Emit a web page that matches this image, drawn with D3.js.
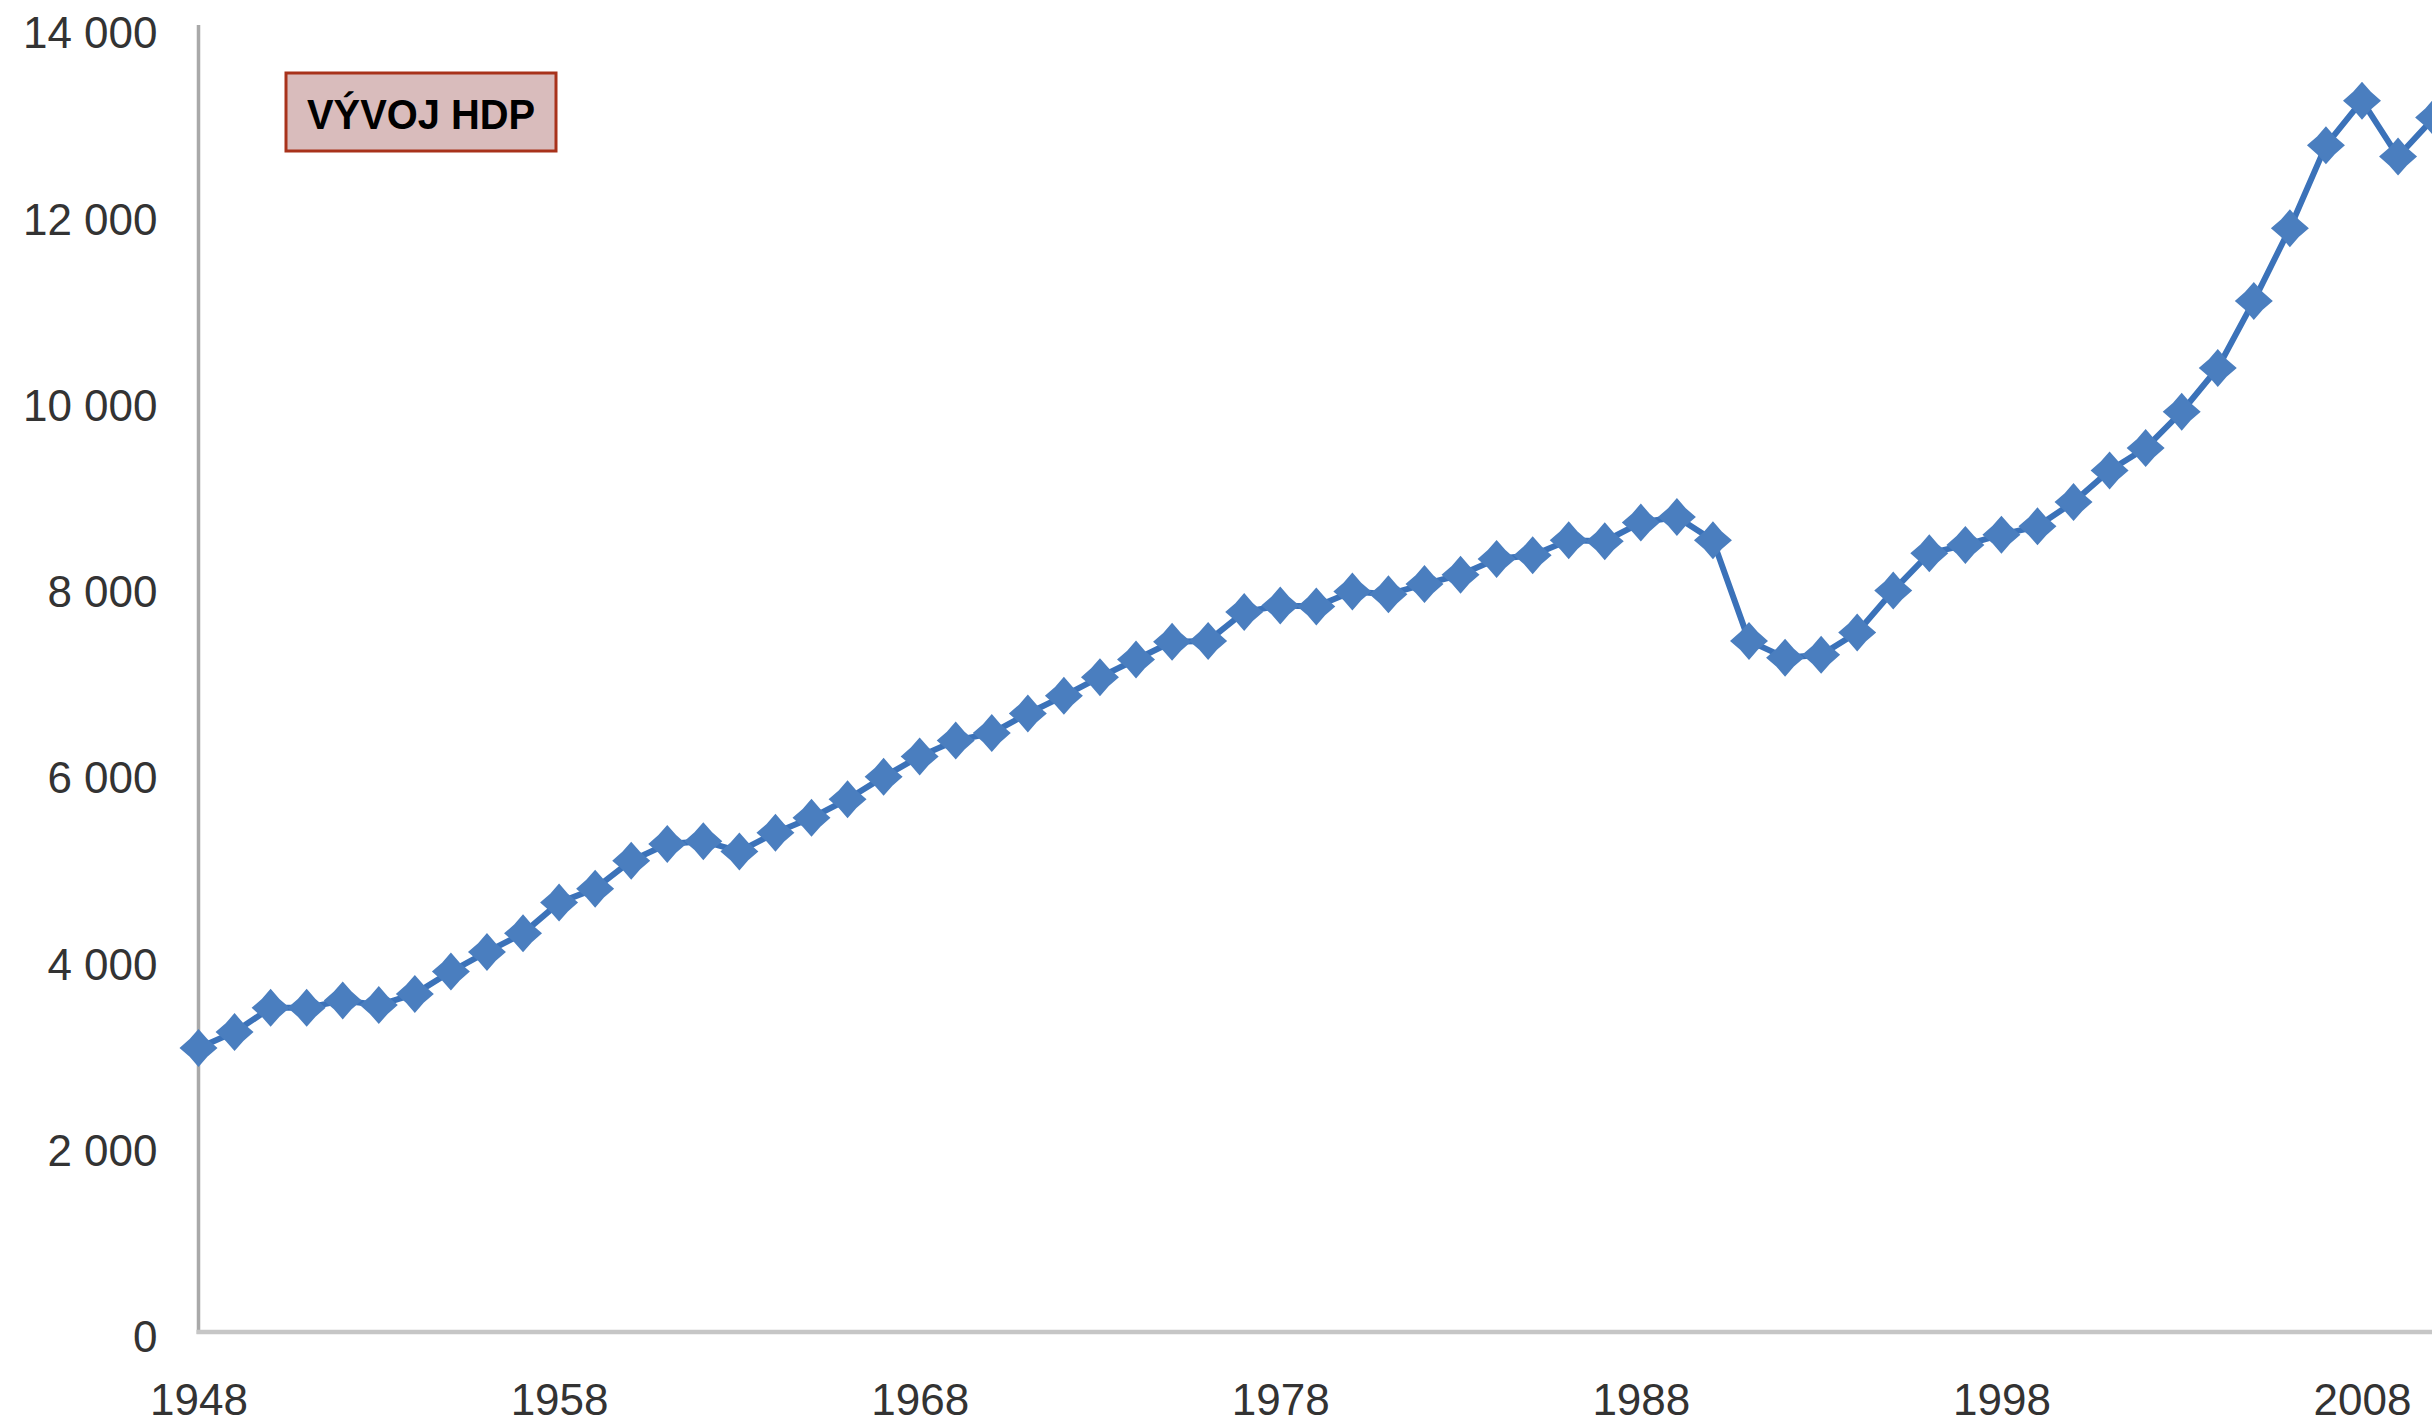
<!DOCTYPE html>
<html>
	<head>
		<meta charset="utf-8">
		<script type="text/javascript" src="https://cdn.jsdelivr.net/npm/d3@7"></script>
		<style type="text/css">
			body {
				margin: 0;
				background: #fff;
			}
			svg {
				font-family: "Liberation Sans", Arial, sans-serif;
				display: block;
			}
			.axis text {
				fill: #333;
				font-size: 44px;
			}
			.axis path,
			.axis line {
				display: none;
			}
			.title rect {
				fill: #d9bcbc;
				stroke: #a8321b;
				stroke-width: 3;
			}
			.title text {
				font-weight: bold;
				font-size: 43px;
				fill: #000;
			}
		</style>
	</head>
<body>
	<script type="text/javascript">
		// roky 1948 - 2010
		var years = d3.range(1948, 2011);
		var hdp = [
			3050, 3220, 3480, 3480, 3560, 3510, 3630, 3870, 4080, 4280,
			4610, 4760, 5060, 5240, 5270, 5160, 5360, 5520, 5720, 5960,
			6180, 6350, 6430, 6640, 6830, 7030, 7220, 7410, 7420, 7730,
			7800, 7790, 7950, 7920, 8030, 8130, 8300, 8340, 8500, 8490,
			8690, 8750, 8500, 7420, 7240, 7270, 7510, 7960, 8360, 8450,
			8560, 8650, 8910, 9250, 9490, 9880, 10350, 11070, 11850, 12740,
			13220, 12620, 13040
		];
		var yTicks = [0, 2000, 4000, 6000, 8000, 10000, 12000, 14000];
		var xTicks = [1948, 1958, 1968, 1978, 1988, 1998, 2008];
		var title = "VÝVOJ HDP";

		var w = 2432;
		var h = 1425;

		var x = d3.scaleLinear()
			.domain([1948, 2008])
			.range([198.5, 2362]);
		var y = d3.scaleLinear()
			.domain([0, 14000])
			.range([1332, 28]);

		var fmt = d3.formatLocale({ decimal: ",", thousands: " ", grouping: [3], currency: ["", ""] }).format(",d");

		var svg = d3.select("body").append("svg")
			.attr("width", w)
			.attr("height", h);

		// y axis labels
		svg.append("g")
			.attr("class", "y axis")
			.attr("transform", "translate(" + x(1948) + ",0)")
			.call(d3.axisLeft(y).tickValues(yTicks).tickSize(0).tickPadding(41).tickFormat(fmt))
			.selectAll("text")
				.attr("dy", "0.45em");

		// x axis labels
		svg.append("g")
			.attr("class", "x axis")
			.attr("transform", "translate(0," + y(0) + ")")
			.call(d3.axisBottom(x).tickValues(xTicks).tickSize(0).tickPadding(52).tickFormat(d3.format("d")));

		// axis lines
		svg.append("line")
			.attr("x1", x(1948)).attr("x2", x(1948))
			.attr("y1", 25).attr("y2", y(0) + 2)
			.attr("stroke", "#a9a9a9")
			.attr("stroke-width", 3.5);
		svg.append("line")
			.attr("x1", x(1948) - 2).attr("x2", w)
			.attr("y1", y(0)).attr("y2", y(0))
			.attr("stroke", "#c6c6c6")
			.attr("stroke-width", 4.5);

		var data = years.map(function (d, i) {
			return { year: d, value: hdp[i] };
		});

		var line = d3.line()
			.x(function (d) { return x(d.year); })
			.y(function (d) { return y(d.value); });

		svg.append("path")
			.datum(data)
			.attr("d", line)
			.attr("fill", "none")
			.attr("stroke", "#3b72b9")
			.attr("stroke-width", 6)
			.attr("stroke-linejoin", "round");

		// 4 cipy hvezda
		var star = d3.lineRadial()
			.angle(function (d, i) { return i * Math.PI / 4; })
			.radius(function (d, i) { return i % 2 ? 12.5 : 19; })
			.curve(d3.curveLinearClosed);
		var starPath = star(d3.range(8));

		svg.selectAll("path.marks")
			.data(data)
			.enter().append("path")
			.attr("class", "marks")
			.attr("d", starPath)
			.attr("transform", function (d) {
				return "translate(" + x(d.year) + "," + y(d.value) + ")";
			})
			.attr("fill", "#4a7ebf");

		// nadpis
		var t = svg.append("g")
			.attr("class", "title");
		t.append("rect")
			.attr("x", 286)
			.attr("y", 73)
			.attr("width", 270)
			.attr("height", 78);
		t.append("text")
			.attr("x", 421)
			.attr("y", 129)
			.attr("text-anchor", "middle")
			.attr("textLength", 228)
			.attr("lengthAdjust", "spacingAndGlyphs")
			.text(title);
	</script>
</body>
</html>
